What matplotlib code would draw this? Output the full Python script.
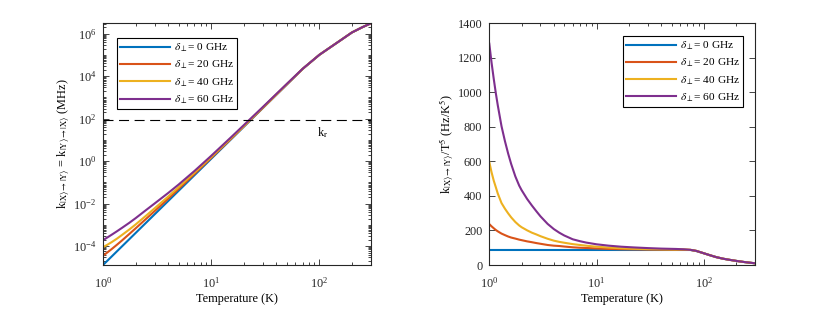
import numpy as np
import matplotlib
matplotlib.use("Agg")
import matplotlib.pyplot as plt
from matplotlib.ticker import LogLocator, NullFormatter

plt.rcParams['font.family'] = ['Liberation Serif', 'DejaVu Serif']
plt.rcParams['mathtext.fontset'] = 'stix'
fs = 8.8

labels = [r'$\delta_{\perp}$= 0 GHz', r'$\delta_{\perp}$= 20 GHz',
          r'$\delta_{\perp}$= 40 GHz', r'$\delta_{\perp}$= 60 GHz']
colors = ['#0072BD', '#D95319', '#EDB120', '#7E2F8E']

# left panel: rate (MHz) vs temperature (K)
T_left = [1, 1.1, 1.2, 1.35, 1.5, 1.75, 2, 2.5, 3, 4, 5, 7, 10, 15, 20, 30, 50, 70,
          100, 120, 150, 200, 250, 300]
k_0 = [1.3e-5, 2.09e-5, 3.23e-5, 5.83e-5, 9.87e-5, 2.13e-4, 4.16e-4, 1.27e-3, 3.16e-3,
       1.33e-2, 4.06e-2, 0.218, 1.3, 9.87, 41.6, 316, 4.06e3, 2.19e4,
       1.02e5, 1.93e5, 4.2e5, 1.15e6, 2.04e6, 3.1e6]
k_20 = [3.54e-5, 5.13e-5, 7.25e-5, 1.186e-4, 1.872e-4, 3.75e-4, 6.88e-4, 1.926e-3, 4.47e-3,
        1.713e-2, 4.995e-2, 0.251, 1.434, 10.46, 43.5, 325, 4.13e3, 2.21e4,
        1.02e5, 1.93e5, 4.2e5, 1.15e6, 2.04e6, 3.1e6]
k_40 = [8.92e-5, 1.177e-4, 1.539e-4, 2.291e-4, 3.392e-4, 6.10e-4, 1.047e-3, 2.728e-3, 6.06e-3,
        2.157e-2, 6.02e-2, 0.291, 1.584, 11.23, 45.4, 334, 4.20e3, 2.235e4,
        1.02e5, 1.93e5, 4.2e5, 1.15e6, 2.04e6, 3.1e6]
k_60 = [1.915e-4, 2.596e-4, 3.439e-4, 5.09e-4, 7.32e-4, 1.258e-3, 2.075e-3, 5.02e-3, 1.024e-2,
        3.18e-2, 7.98e-2, 0.3465, 1.793, 12.37, 49.7, 356, 4.37e3, 2.248e4,
        1.02e5, 1.93e5, 4.2e5, 1.15e6, 2.04e6, 3.1e6]
k_r = 90

# right panel: rate / T^5 (Hz/K^5)
T_right = [1, 1.05, 1.1, 1.15, 1.2, 1.3, 1.4, 1.5, 1.6, 1.75, 1.9, 2, 2.25, 2.5, 2.75, 3, 3.5,
           4, 4.5, 5, 6, 7, 8, 10, 13, 17, 22, 30, 40, 55, 65, 75, 85, 100, 115, 130, 150,
           170, 200, 240, 300]
r_0 = [87, 87, 87, 87, 87, 87, 87, 87, 87, 87, 87, 87, 87, 87, 87, 87, 87,
       87, 87, 87, 87, 87, 87, 87, 87, 87, 87, 87, 87, 87, 87, 87, 81, 68, 56, 46, 37,
       31, 24, 17, 10]
r_20 = [237, 224, 213, 203, 195, 182, 173, 165, 159, 153, 147, 144, 137, 132, 127, 123, 116,
        112, 110, 107, 102.5, 100, 98.6, 96, 93, 91.5, 90.5, 89.5, 89, 88.5, 88.5, 87.5, 82, 68, 56, 46, 37,
        31, 24, 17, 10]
r_40 = [597, 537, 489, 451, 414, 359, 326, 299, 276, 249, 229, 219, 201, 187, 177, 167, 152,
        141, 134, 129, 121, 116, 112, 106, 101, 97, 94, 92, 91, 90, 90, 88, 82, 68, 56, 46, 37,
        31, 24, 17, 10]
r_60 = [1282, 1172, 1079, 996, 925, 804, 717, 645, 585, 513, 460, 434, 383, 344, 311, 282, 238,
        208, 187, 171, 149, 138, 130, 120, 112, 106, 102, 98, 95, 93, 91, 88, 82, 68, 56, 46, 37,
        31, 24, 17, 10]

fig = plt.figure(figsize=(8.3, 3.17), dpi=100)
ax1 = fig.add_axes([0.1241, 0.164, 0.3229, 0.7625])
ax2 = fig.add_axes([0.5895, 0.164, 0.3201, 0.7625])

leg_kw = dict(borderaxespad=0, fontsize=8.2, handlelength=4.4, handletextpad=0.3,
              labelspacing=0.42, fancybox=False, edgecolor='k', framealpha=1, borderpad=0.3)

for ys, c, lab in zip([k_0, k_20, k_40, k_60], colors, labels):
    ax1.plot(T_left, ys, color=c, lw=1.5, label=lab)
ax1.axhline(k_r, color='k', lw=0.8, ls=(0, (9, 5)))
ax1.text(95, 22, r'k$_\mathrm{r}$', fontsize=fs, ha='left', va='center')
ax1.set_xscale('log')
ax1.set_yscale('log')
ax1.set_xlim(1, 300)
ax1.set_ylim(min(k_0), max(k_60))
ax1.set_yticks([1e-4, 1e-2, 1e0, 1e2, 1e4, 1e6])
ax1.yaxis.set_minor_locator(LogLocator(base=10, subs=np.arange(1, 10), numticks=100))
ax1.yaxis.set_minor_formatter(NullFormatter())
ax1.set_xlabel('Temperature (K)', fontsize=fs, labelpad=1.8)
ax1.set_ylabel(r'k$_{|\mathrm{X}\rangle\rightarrow|\mathrm{Y}\rangle}$ = '
               r'k$_{|\mathrm{Y}\rangle\rightarrow|\mathrm{X}\rangle}$ (MHz)', fontsize=fs, labelpad=0.5)
ax1.legend(loc='upper left', bbox_to_anchor=(0.051, 0.938), **leg_kw)

for ys, c, lab in zip([r_0, r_20, r_40, r_60], colors, labels):
    ax2.plot(T_right, ys, color=c, lw=1.5, label=lab)
ax2.set_xscale('log')
ax2.set_xlim(1, 300)
ax2.set_ylim(0, 1400)
ax2.set_yticks(np.arange(0, 1401, 200))
ax2.set_xlabel('Temperature (K)', fontsize=fs, labelpad=1.8)
ax2.set_ylabel(r'k$_{|\mathrm{X}\rangle\rightarrow|\mathrm{Y}\rangle}$/T$^5$ (Hz/K$^5$)',
               fontsize=fs, labelpad=1)
ax2.legend(loc='upper right', bbox_to_anchor=(0.956, 0.947), **leg_kw)

for ax in (ax1, ax2):
    ax.xaxis.set_minor_locator(LogLocator(base=10, subs=np.arange(2, 10), numticks=100))
    ax.xaxis.set_minor_formatter(NullFormatter())
    ax.tick_params(which='both', direction='in', top=True, right=True, labelsize=fs,
                   colors='#262626', width=0.6)
    ax.tick_params(which='major', length=4)
    ax.tick_params(which='minor', length=2)
    ax.tick_params(axis='x', which='major', pad=8)
    ax.tick_params(axis='y', which='major', pad=5)
    for s in ax.spines.values():
        s.set_linewidth(0.8)
        s.set_color('#262626')
    ax.get_legend().get_frame().set_linewidth(0.8)

fig.savefig('out.png', dpi=100)
